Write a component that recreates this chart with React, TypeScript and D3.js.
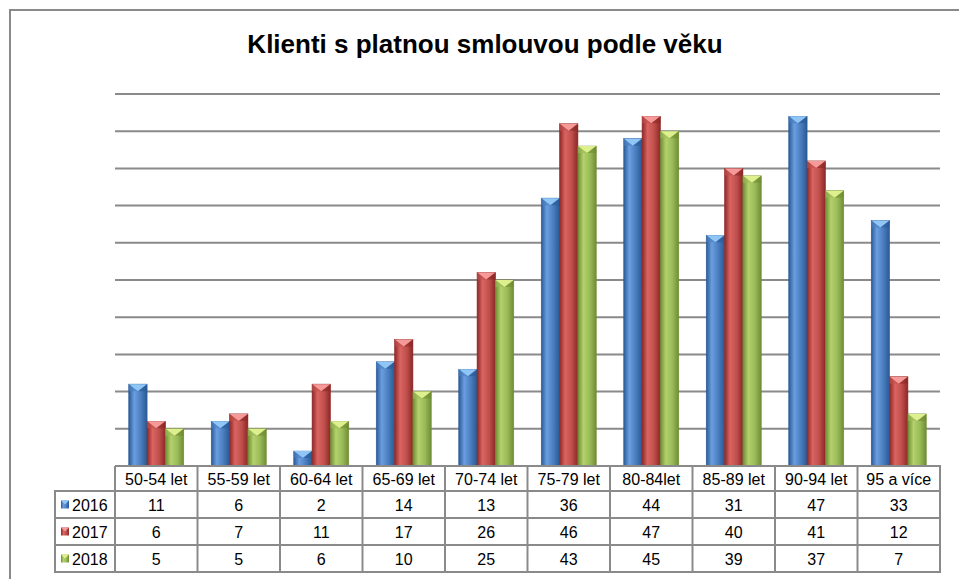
import React from "react";
import * as d3 from "d3";

const categories = [
  "50-54 let",
  "55-59 let",
  "60-64 let",
  "65-69 let",
  "70-74 let",
  "75-79 let",
  "80-84let",
  "85-89 let",
  "90-94 let",
  "95 a více",
];
const seriesNames = ["2016", "2017", "2018"];
const values2016 = [11, 6, 2, 14, 13, 36, 44, 31, 47, 33];
const values2017 = [6, 7, 11, 17, 26, 46, 47, 40, 41, 12];
const values2018 = [5, 5, 6, 10, 25, 43, 45, 39, 37, 7];
const gridTicks = [0, 5, 10, 15, 20, 25, 30, 35, 40, 45, 50];

const series = [
  { name: seriesNames[0], values: values2016 },
  { name: seriesNames[1], values: values2017 },
  { name: seriesNames[2], values: values2018 },
];

// edge, mid, light, cap
const palette = [
  { edge: "#2a5a96", mid: "#4a7ebf", light: "#6a9ee0", cap: "#8fc6f6" },
  { edge: "#8c2826", mid: "#c0504d", light: "#da6461", cap: "#f59a98" },
  { edge: "#6f8c34", mid: "#9bbb59", light: "#b3d16c", cap: "#ddf08d" },
];

const W = 959;
const H = 579;
const plotLeft = 115;
const plotRight = 940;
const plotTop = 94;
const plotBottom = 466;
const legendLeft = 55;
const headerH = 25;
const rowH = 27;
const font = "Arial, 'Liberation Sans', sans-serif";
const lineColor = "#8a8a8a";
const tableFont = 16;

export default function App() {
  const x = d3.scaleBand().domain(categories).range([plotLeft, plotRight]);
  const inner = d3
    .scaleBand()
    .domain(seriesNames)
    .range([0, x.bandwidth()])
    .paddingInner(0)
    .paddingOuter(0.75);
  const y = d3.scaleLinear().domain([0, 50]).range([plotBottom, plotTop]);
  const bw = inner.bandwidth();
  const cap = 7;

  const rowsTop = plotBottom + headerH;
  const tableBottom = rowsTop + rowH * series.length;

  return (
    <svg
      width={W}
      height={H}
      style={{ position: "absolute", left: 0, top: 0, background: "#fff" }}
      fontFamily={font}
    >
      <defs>
        {palette.map((p, i) => (
          <linearGradient key={i} id={`g${i}`} x1="0" x2="1" y1="0" y2="0">
            <stop offset="0" stopColor={p.edge} />
            <stop offset="0.3" stopColor={p.light} />
            <stop offset="0.65" stopColor={p.mid} />
            <stop offset="1" stopColor={p.edge} />
          </linearGradient>
        ))}
      </defs>
      <rect x={0} y={0} width={W} height={H} fill="#fff" />
      <path d={`M10,${H} V10 H${W}`} fill="none" stroke={lineColor} strokeWidth={2} />

      <text
        x={485}
        y={53}
        textAnchor="middle"
        fontSize={26}
        fontWeight="bold"
        fill="#000"
      >
        Klienti s platnou smlouvou podle věku
      </text>

      {gridTicks.map((t) => (
        <line
          key={t}
          x1={plotLeft}
          x2={plotRight}
          y1={y(t)}
          y2={y(t)}
          stroke={lineColor}
          strokeWidth={2}
        />
      ))}

      {categories.map((c, ci) => (
        <g key={c}>
          {series.map((s, si) => {
            const x0 = (x(c) ?? 0) + (inner(s.name) ?? 0);
            const v = s.values[ci];
            const top = y(v);
            const h = plotBottom - top;
            const p = palette[si];
            const ch = Math.min(cap, h);
            return (
              <g key={s.name}>
                <rect
                  x={x0}
                  y={top}
                  width={bw}
                  height={h}
                  fill={`url(#g${si})`}
                  stroke={p.edge}
                  strokeWidth={0.6}
                />
                <polygon
                  points={`${x0},${top} ${x0 + bw},${top} ${x0 + bw / 2},${top + ch}`}
                  fill={p.cap}
                />
                <polygon
                  points={`${x0},${top} ${x0 + bw / 2},${top + ch} ${x0},${top + ch}`}
                  fill={p.mid}
                  opacity={0.6}
                />
                <polygon
                  points={`${x0 + bw},${top} ${x0 + bw / 2},${top + ch} ${x0 + bw},${top + ch}`}
                  fill={p.edge}
                  opacity={0.6}
                />
              </g>
            );
          })}
        </g>
      ))}

      {/* data table */}
      <g stroke={lineColor} strokeWidth={2} fill="none">
        <path
          d={`M${plotLeft},${plotBottom} H${plotRight} V${tableBottom} H${legendLeft} V${rowsTop} H${plotRight}`}
        />
        {series.slice(1).map((s, i) => (
          <line
            key={s.name}
            x1={legendLeft}
            x2={plotRight}
            y1={rowsTop + rowH * (i + 1)}
            y2={rowsTop + rowH * (i + 1)}
          />
        ))}
        {categories.map((c) => (
          <line
            key={c}
            x1={x(c)}
            x2={x(c)}
            y1={plotBottom}
            y2={tableBottom}
          />
        ))}
      </g>

      {categories.map((c) => (
        <text
          key={c}
          x={(x(c) ?? 0) + x.bandwidth() / 2}
          y={plotBottom + headerH / 2 + 6}
          textAnchor="middle"
          fontSize={tableFont}
          fill="#000"
        >
          {c}
        </text>
      ))}

      {series.map((s, si) => {
        const ry = rowsTop + rowH * si + rowH / 2 + 6;
        const p = palette[si];
        const ky = rowsTop + rowH * si + rowH / 2 - 4;
        return (
          <g key={s.name}>
            <rect x={61} y={ky} width={8} height={8} fill={`url(#g${si})`} />
            <polygon
              points={`${61},${ky} ${69},${ky} ${65},${ky + 4}`}
              fill={p.cap}
            />
            <text x={72} y={ry} fontSize={tableFont} fill="#000">
              {s.name}
            </text>
            {s.values.map((v, ci) => (
              <text
                key={ci}
                x={(x(categories[ci]) ?? 0) + x.bandwidth() / 2}
                y={ry}
                textAnchor="middle"
                fontSize={tableFont}
                fill="#000"
              >
                {v}
              </text>
            ))}
          </g>
        );
      })}
    </svg>
  );
}
